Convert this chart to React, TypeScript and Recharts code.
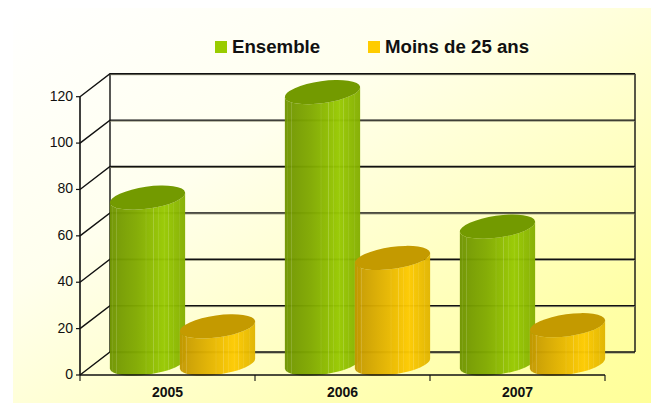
import { BarChart, Bar, XAxis, YAxis, Legend, ReferenceLine, ReferenceArea } from 'recharts';

const categories = ['2005', '2006', '2007'];
const ensemble = [71.5, 117, 59];
const moinsDe25 = [16, 45.5, 16.5];
const yTicks = [0, 20, 40, 60, 80, 100, 120];
const stripes = [0.04, 0.09, 0.48, 0.58, 0.65, 0.72, 0.78, 0.85, 0.93];

const chartData = categories.map((year, i) => ({
  year,
  ensemble: ensemble[i],
  moins: moinsDe25[i],
}));

const DEPTH_X = 30;
const DEPTH_Y = 23;
const TILT = 8;
const HALF_BAND = 87.5;
const tiltRad = (TILT * Math.PI) / 180;

// cylinder drawn over the box the Bar computes
const Cylinder = (props: any) => {
  const { x, y, width, height, bodyFill, capFill } = props;
  const cx = x + DEPTH_X / 2 + width / 2;
  const top = y - 11.5;
  const bottom = y + height - 11.5;
  const rx = width / 2 + 0.5;
  const ry = 11;
  const ex = rx * Math.cos(tiltRad);
  const ey = rx * Math.sin(tiltRad);
  const body = `M${cx - ex},${top + ey} L${cx - ex},${bottom + ey} A${rx},${ry} ${-TILT} 0 0 ${cx + ex},${bottom - ey} L${cx + ex},${top - ey} A${rx},${ry} ${-TILT} 0 1 ${cx - ex},${top + ey} Z`;
  return (
    <g>
      <path d={body} fill={`url(#${bodyFill})`} fillOpacity={0.96} />
      <path d={body} fill="url(#stripes)" />
      <ellipse cx={cx} cy={top} rx={rx} ry={ry} fill={capFill} transform={`rotate(${-TILT} ${cx} ${top})`} />
    </g>
  );
};

// floor/wall line for one tick: diagonal on the side wall, then across the back
const WallLine = (props: any) => {
  const { x1, y1, x2 } = props;
  const bx = x1 + DEPTH_X;
  const by = y1 - DEPTH_Y;
  return (
    <g fill="none">
      <polyline points={`${bx},${by + 1} ${x2 + DEPTH_X},${by + 1}`} stroke="#8a8a70" strokeWidth={1} />
      <polyline points={`${x1},${y1} ${bx},${by} ${x2 + DEPTH_X},${by}`} stroke="#111" strokeWidth={1.4} />
    </g>
  );
};

const WallFrame = (props: any) => {
  const { x, y, width, height } = props;
  const by = y - DEPTH_Y;
  return (
    <g fill="none" stroke="#111" strokeWidth={1.4}>
      <line x1={x + DEPTH_X} y1={by} x2={x + DEPTH_X} y2={by + height} />
      <line x1={x + width + DEPTH_X} y1={by} x2={x + width + DEPTH_X} y2={by + height} />
    </g>
  );
};

// tick marks sit between the categories, labels in the middle
const YearTick = (props: any) => {
  const { x, y, index, payload } = props;
  const isLast = index === categories.length - 1;
  return (
    <g>
      <line x1={x - HALF_BAND} y1={y - 11} x2={x - HALF_BAND} y2={y - 5} stroke="#111" strokeWidth={1.1} />
      {isLast && <line x1={x + HALF_BAND} y1={y - 11} x2={x + HALF_BAND} y2={y - 5} stroke="#111" strokeWidth={1.1} />}
      <text x={x} y={y + 11} textAnchor="middle" fill="#111" fontSize={14} fontWeight={700}>
        {payload.value}
      </text>
    </g>
  );
};

const LegendRow = () => (
  <div style={{ position: 'relative', width: 400, height: 30, fontFamily: '"Liberation Sans", Arial, sans-serif', fontWeight: 700, fontSize: 18.67, color: '#111' }}>
    <span style={{ position: 'absolute', left: 0, top: 8, width: 12, height: 12, background: '#99cc00' }} />
    <span style={{ position: 'absolute', left: 17, top: 3, whiteSpace: 'nowrap' }}>Ensemble</span>
    <span style={{ position: 'absolute', left: 153, top: 8, width: 12, height: 12, background: '#ffcc00' }} />
    <span style={{ position: 'absolute', left: 170, top: 3, whiteSpace: 'nowrap' }}>Moins de 25 ans</span>
  </div>
);

export default function App() {
  return (
    <div style={{ position: 'absolute', left: 0, top: 0, width: 651, height: 403, background: '#fff', overflow: 'hidden' }}>
      <div
        style={{
          position: 'absolute',
          left: 13,
          top: 8,
          width: 638,
          height: 395,
          background: 'linear-gradient(148deg, #ffffff 0%, #ffffee 35%, #ffffa6 85%, #ffff99 100%)',
        }}
      />
      <BarChart
        width={651}
        height={403}
        data={chartData}
        barSize={75}
        barGap={-5}
        margin={{ top: 96.7, right: 46, bottom: 0, left: 0 }}
        style={{ position: 'absolute', left: 0, top: 0, fontFamily: '"Liberation Sans", Arial, sans-serif' }}
      >
        <defs>
          <linearGradient id="greenBody" x1="0" y1="0" x2="1" y2="0">
            <stop offset="0" stopColor="#6f9400" />
            <stop offset="0.35" stopColor="#80a900" />
            <stop offset="0.72" stopColor="#97c900" />
            <stop offset="1" stopColor="#83ad00" />
          </linearGradient>
          <linearGradient id="yellowBody" x1="0" y1="0" x2="1" y2="0">
            <stop offset="0" stopColor="#c29700" />
            <stop offset="0.35" stopColor="#dfb000" />
            <stop offset="0.72" stopColor="#fdca00" />
            <stop offset="1" stopColor="#e0b400" />
          </linearGradient>
          <linearGradient id="stripes" x1="0" y1="0" x2="1" y2="0">
            {stripes.flatMap((f) => [
              <stop key={`${f}a`} offset={f - 0.008} stopColor="#fff" stopOpacity={0} />,
              <stop key={`${f}b`} offset={f} stopColor="#fff" stopOpacity={0.2} />,
              <stop key={`${f}c`} offset={f + 0.008} stopColor="#fff" stopOpacity={0} />,
            ])}
          </linearGradient>
        </defs>
        <ReferenceArea y1={0} y2={120} shape={WallFrame} fill="none" zIndex={-10} />
        {yTicks.map((v) => (
          <ReferenceLine key={v} y={v} shape={WallLine} zIndex={-10} />
        ))}
        <XAxis
          dataKey="year"
          height={28}
          axisLine={{ stroke: '#111', strokeWidth: 1.4 }}
          tickLine={false}
          tickSize={5}
          interval={0}
          tick={YearTick}
          tickMargin={6}
        />
        <YAxis
          width={80}
          domain={[0, 120]}
          ticks={yTicks}
          axisLine={{ stroke: '#111', strokeWidth: 1.6 }}
          tickLine={{ stroke: '#111', strokeWidth: 1.2 }}
          tickSize={4}
          tickMargin={3}
          tick={{ fill: '#111', fontSize: 14, dy: -1 }}
        />
        <Legend
          layout="horizontal"
          verticalAlign="middle"
          align="center"
          wrapperStyle={{ position: 'absolute', left: 215, top: 33, width: 400 }}
          content={LegendRow}
        />
        <Bar dataKey="ensemble" name="Ensemble" fill="#99cc00" isAnimationActive={false} shape={(p: any) => <Cylinder {...p} bodyFill="greenBody" capFill="#739a00" />} />
        <Bar dataKey="moins" name="Moins de 25 ans" fill="#ffcc00" isAnimationActive={false} shape={(p: any) => <Cylinder {...p} bodyFill="yellowBody" capFill="#c49a00" />} />
      </BarChart>
    </div>
  );
}
